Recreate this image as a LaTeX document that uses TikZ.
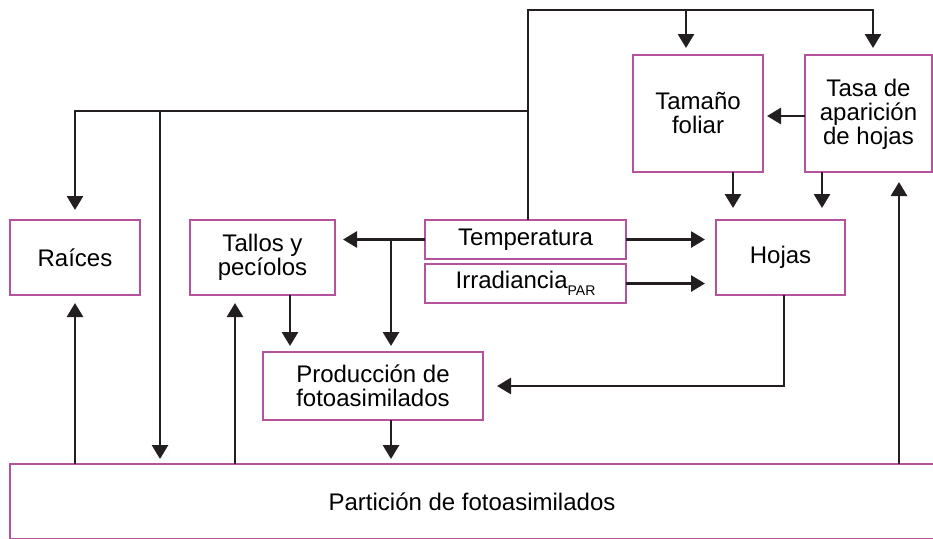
\documentclass[tikz,border=0pt]{standalone}
\usepackage{fontspec}
\setmainfont{Liberation Sans}
\usepackage{xcolor}
\usetikzlibrary{arrows.meta, positioning}

\definecolor{boxpink}{HTML}{B5529E}
\definecolor{linegray}{HTML}{231F20}

\begin{document}
\begin{tikzpicture}[x=1pt, y=-1pt,
    font=\fontsize{24}{24}\selectfont,
    box/.style={draw=boxpink, line width=2.8pt, rectangle, align=center,
      inner sep=0pt, outer sep=0pt},
    arr/.style={draw=linegray, line width=2.8pt,
      -{Triangle[length=14pt, width=16pt]}, shorten >=8pt}]
  \useasboundingbox (0,0) rectangle (933,538);

  \node[box, minimum width=130, minimum height=75](raices) at (75,257.5){Raíces};
  \node[box, minimum width=145, minimum height=75](tallos) at (262.5,257.5){Tallos y\\pecíolos};
  \node[box, minimum width=201, minimum height=39](temp) at (525.5,239.5){Temperatura};
  \node[box, minimum width=201, minimum height=39](irrad) at (525.5,283.5)
    {Irradiancia\raisebox{-7pt}{\fontsize{14}{14}\selectfont PAR}};
  \node[box, minimum width=129, minimum height=75](hojas) at (780.5,257.5){Hojas};
  \node[box, minimum width=130, minimum height=117](tamano) at (698,113.5){Tamaño\\foliar};
  \node[box, minimum width=127, minimum height=117, text depth=4pt](tasa) at (868.5,113.5){Tasa de\\aparición\\de hojas};
  \node[box, minimum width=220, minimum height=68](prod) at (373,386){Producción de\\fotoasimilados};
  \node[box, minimum width=940, minimum height=75](part) at (480,501.5){\hspace*{-16pt}Partición de fotoasimilados};

  \coordinate (top) at (528,10);
  \coordinate (mid) at (528,111);
  \coordinate (split) at (391,239.5);

  % temperatura hacia arriba
  \draw[arr, shorten >=7pt] ([xshift=2.5]temp.north) -- (top) -| ([xshift=4.5]tasa.north);
  \draw[arr, shorten >=7pt] ([xshift=-12]tamano.north |- top) -- ([xshift=-12]tamano.north);
  \draw[arr, shorten >=10pt] (mid) -| (raices.north);
  \draw[arr, shorten >=5pt] (160,111) -- (160,464);

  % temperatura hacia la izquierda
  \draw[arr] (temp.west) -- (temp.west -| tallos.east);
  \draw[arr, shorten >=6pt] (split) -- (split |- prod.north);
  \draw[arr, shorten >=6pt] ([xshift=27.5]tallos.south) -- ([xshift=27.5]tallos.south |- prod.north);
  \draw[arr, shorten >=5pt] ([xshift=18]prod.south) -- ([xshift=18]prod.south |- part.north);

  % particion hacia los organos
  \draw[arr] (part.north -| raices.south) -- (raices.south);
  \draw[arr] ([xshift=-27.5]tallos.south |- part.north) -- ([xshift=-27.5]tallos.south);
  \draw[arr, shorten >=10pt] ([xshift=30.5]tasa.south |- part.north) -- ([xshift=30.5]tasa.south);

  % hojas
  \draw[arr, shorten >=4pt] ([yshift=-2.5]tasa.west |- tamano.east) -- ([yshift=-2.5]tamano.east);
  \draw[arr, shorten >=12pt] ([xshift=35]tamano.south) -- ([xshift=35]tamano.south |- hojas.north);
  \draw[arr, shorten >=12pt] ([xshift=-46.5]tasa.south) -- ([xshift=-46.5]tasa.south |- hojas.north);
  \draw[arr, shorten >=11pt] (temp.east) -- (temp.east -| hojas.west);
  \draw[arr, shorten >=11pt] (irrad.east) -- (irrad.east -| hojas.west);
  \draw[arr, shorten >=14pt] ([xshift=3.5]hojas.south) |- (prod.east);
\end{tikzpicture}
\end{document}
